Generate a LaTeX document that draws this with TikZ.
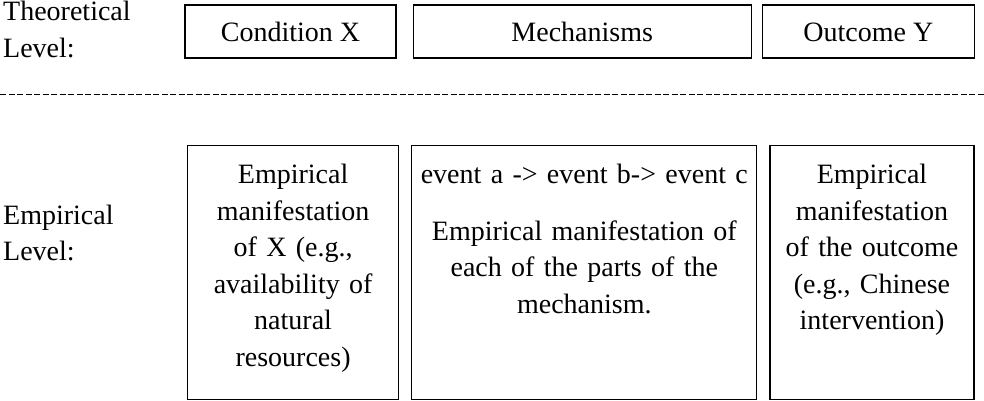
\documentclass[tikz,border=0pt]{standalone}
\usepackage{fontspec}
\setmainfont{Liberation Serif}
\usetikzlibrary{positioning}

\begin{document}
\begin{tikzpicture}[x=1pt,y=1pt,
  every node/.style={font=\fontsize{28}{36.5}\selectfont},
  level/.style={text width=160pt,align=left,inner sep=0pt,anchor=base west},
  theory box/.style={draw,line width=1.2pt,minimum height=53pt,inner sep=0pt,text height=22pt,text depth=2pt},
  empirical box/.style={draw,line width=1.2pt,align=center,inner xsep=6pt,inner ysep=0pt,text height=38pt,text depth=216pt}]

  \useasboundingbox (0,0) rectangle (984,-401);

  \node[level] (theo) at (3,-21) {Theoretical\\Level:};
  \node[level] (emp) at (3,-224) {Empirical\\Level:};

  \node[theory box,minimum width=211pt] (condX) at (290.5,-31.5) {Condition X};
  \node[theory box,minimum width=338pt,right=16pt of condX] (mech) {Mechanisms};
  \node[theory box,minimum width=212pt,right=10pt of mech] (outY) {Outcome Y};

  \coordinate (sepL) at (0,-95);
  \coordinate (sepR) at (984,-95);
  \draw[line width=1pt,dash pattern=on 6pt off 2.5pt] (sepL) -- (sepR);

  \node[empirical box,text width=199pt,anchor=north west] (empX) at (187,-145) {Empirical\\manifestation\\of X (e.g.,\\availability of\\natural\\resources)};
  \node[empirical box,text width=333pt,right=12pt of empX] (empM) {event a -> event b-> event c\\[20pt]Empirical manifestation of\\each of the parts of the\\mechanism.};
  \node[empirical box,text width=192pt,right=12pt of empM] (empY) {Empirical\\manifestation\\of the outcome\\(e.g., Chinese\\intervention)};

\end{tikzpicture}
\end{document}
